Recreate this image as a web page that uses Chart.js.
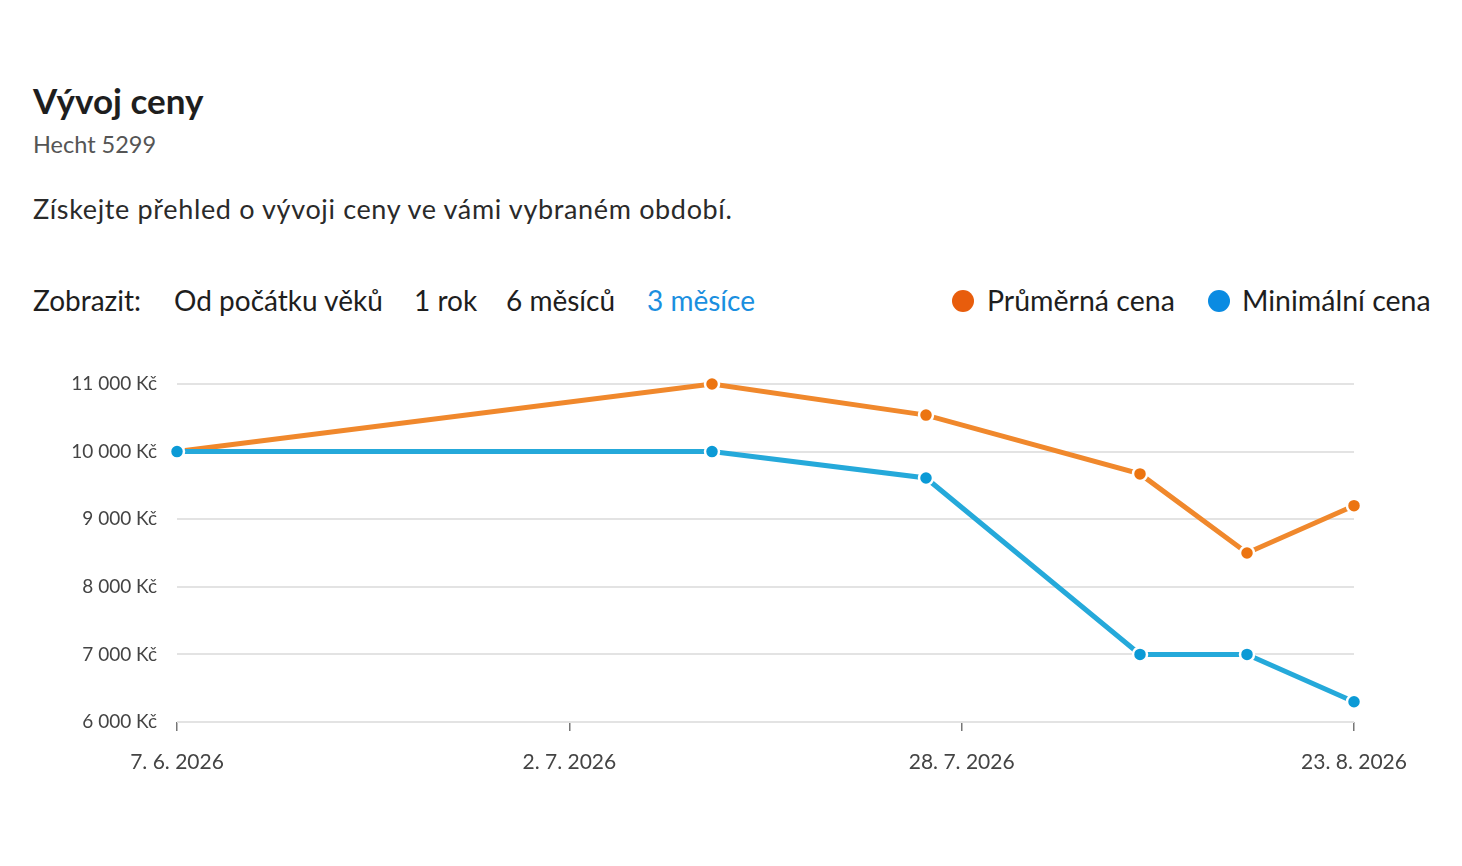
<!DOCTYPE html>
<html lang="cs">
<head>
<meta charset="utf-8">
<title>Vývoj ceny</title>
<script src="https://cdn.jsdelivr.net/npm/chart.js@4/dist/chart.umd.min.js"></script>
<style>
  html, body { margin: 0; padding: 0; background: #fff; }
  body { width: 1462px; height: 866px; position: relative; font-family: Lato, "Noto Sans", sans-serif; color: #222; overflow: hidden; }
  .abs { position: absolute; white-space: nowrap; }
  #title { left: 33px; top: 79px; font-size: 35px; font-weight: 700; color: #1e1e1e; }
  #subtitle { left: 33px; top: 130px; font-size: 23.5px; color: #555; }
  #desc { left: 33px; top: 192px; font-size: 27px; letter-spacing: 0.65px; color: #2a2a2a; }
  .range { top: 283px; font-size: 28px; color: #1e1e1e; }
  .range.active { color: #1a8fe0; }
  .legend { top: 283px; font-size: 28.5px; color: #1e1e1e; }
  .dot { position: absolute; width: 22px; height: 22px; border-radius: 50%; top: 290px; }
  #chartBox { position: absolute; left: 0; top: 350px; width: 1462px; height: 432px; }
</style>
</head>
<body>
<div id="title" class="abs">Vývoj ceny</div>
<div id="subtitle" class="abs">Hecht 5299</div>
<div id="desc" class="abs">Získejte přehled o vývoji ceny ve vámi vybraném období.</div>

<div class="abs range" style="left:33px">Zobrazit:</div>
<div class="abs range" style="left:174px">Od počátku věků</div>
<div class="abs range" style="left:414px">1 rok</div>
<div class="abs range" style="left:506px">6 měsíců</div>
<div class="abs range active" style="left:647px">3 měsíce</div>

<div class="dot" style="left:952px; background:#e85d0c"></div>
<div class="abs legend" style="left:987px">Průměrná cena</div>
<div class="dot" style="left:1208px; background:#0a8be2"></div>
<div class="abs legend" style="left:1242px">Minimální cena</div>

<div id="chartBox"><canvas id="priceChart"></canvas></div>

<script>
// Data
const dates = ['2026-06-07', '2026-07-12', '2026-07-26', '2026-08-09', '2026-08-16', '2026-08-23'];
const avgPrice = [10000, 11000, 10540, 9670, 8500, 9200];
const minPrice = [10000, 10000, 9610, 7000, 7000, 6300];
const xTickLabels = ['7. 6. 2026', '2. 7. 2026', '28. 7. 2026', '23. 8. 2026'];
const yTicks = [6000, 7000, 8000, 9000, 10000, 11000];

// days from the first date
const dayMs = 24 * 60 * 60 * 1000;
const start = Date.parse(dates[0]);
const days = dates.map(d => Math.round((Date.parse(d) - start) / dayMs));
const lastDay = days[days.length - 1];

const toPoints = values => values.map((v, i) => ({ x: days[i], y: v }));

const formatKc = v => String(v).replace(/\B(?=(\d{3})+(?!\d))/g, ' ') + ' Kč';

const ctx = document.getElementById('priceChart').getContext('2d');
new Chart(ctx, {
  type: 'line',
  data: {
    datasets: [
      {
        label: 'Průměrná cena',
        data: toPoints(avgPrice),
        order: 1,
        borderColor: '#f0882c',
        borderWidth: 5,
        pointBackgroundColor: '#ec7410',
        pointBorderColor: '#fff',
        pointBorderWidth: 2.5,
        pointRadius: 7,
        tension: 0,
        clip: false
      },
      {
        label: 'Minimální cena',
        data: toPoints(minPrice),
        order: 0,
        borderColor: '#25a9da',
        borderWidth: 5,
        pointBackgroundColor: '#0b9ad6',
        pointBorderColor: '#fff',
        pointBorderWidth: 2.5,
        pointRadius: 7,
        tension: 0,
        clip: false
      }
    ]
  },
  options: {
    responsive: true,
    maintainAspectRatio: false,
    animation: false,
    layout: { padding: { top: 34, right: 108, left: 0, bottom: 0 } },
    plugins: {
      legend: { display: false },
      tooltip: { enabled: false }
    },
    scales: {
      x: {
        type: 'linear',
        min: 0,
        max: lastDay,
        afterBuildTicks: axis => {
          axis.ticks = xTickLabels.map((_, i) => ({ value: lastDay * i / (xTickLabels.length - 1) }));
        },
        afterFit: axis => { axis.height = 60; },
        border: { display: false },
        grid: { drawOnChartArea: false, drawTicks: true, tickLength: 9, color: '#777', lineWidth: 1.5 },
        ticks: {
          autoSkip: false,
          maxRotation: 0,
          padding: 19,
          color: '#444',
          font: { family: 'Lato', size: 21 },
          callback: (value, index) => xTickLabels[index]
        }
      },
      y: {
        min: 6000,
        max: 11000,
        afterBuildTicks: axis => { axis.ticks = yTicks.map(v => ({ value: v })); },
        afterFit: axis => { axis.width = 177; },
        border: { display: false },
        grid: { color: '#e3e3e3', lineWidth: 2, drawTicks: false },
        ticks: {
          padding: 20,
          color: '#444',
          font: { family: 'Lato', size: 19 },
          callback: v => formatKc(v)
        }
      }
    }
  }
});
</script>
</body>
</html>
